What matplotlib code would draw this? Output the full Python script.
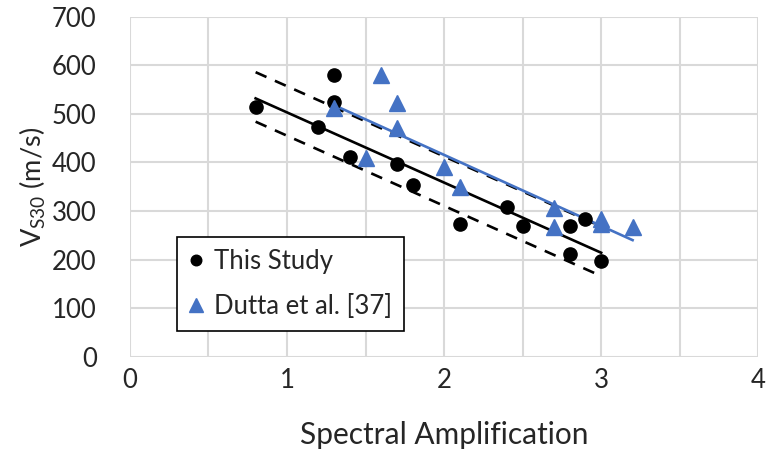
import numpy as np
import matplotlib.pyplot as plt

plt.rcParams['font.family'] = ['Lato', 'DejaVu Sans']

# This Study (black circles)
study_x = [0.8, 1.2, 1.3, 1.3, 1.4, 1.7, 1.8, 2.1, 2.4, 2.5, 2.8, 2.8, 2.9, 3.0]
study_y = [514, 474, 580, 525, 411, 397, 354, 273, 308, 269, 269, 212, 283, 197]

# Dutta et al. [37] (blue triangles)
dutta_x = [1.3, 1.5, 1.6, 1.7, 1.7, 2.0, 2.1, 2.7, 2.7, 3.0, 3.0, 3.2]
dutta_y = [512, 409, 581, 522, 470, 391, 350, 306, 268, 283, 273, 268]

# fitted lines
fit_x = [0.8, 3.0]
fit_y = [532, 214]
upper_y = [586, 268]
lower_y = [484, 166]
dutta_fit_x = [1.3, 3.2]
dutta_fit_y = [518, 240]

blue = '#4472C4'
fs = 18.5

fig = plt.figure(figsize=(7.69, 4.68), dpi=100)
ax = fig.add_axes([0.169, 0.238, 0.817, 0.726])

ax.plot(fit_x, fit_y, color='black', lw=1.9, zorder=3)
ax.plot(fit_x, upper_y, color='black', lw=1.9, dashes=(4.5, 3.5), zorder=3)
ax.plot(fit_x, lower_y, color='black', lw=1.9, dashes=(4.5, 3.5), zorder=3)
ax.plot(dutta_fit_x, dutta_fit_y, color=blue, lw=1.9, zorder=3)

ax.plot(study_x, study_y, 'o', color='black', ms=9.5, ls='none', zorder=4,
        label='This Study')
ax.plot(dutta_x, dutta_y, '^', color=blue, ms=12, ls='none', zorder=4,
        label='Dutta et al. [37]')

ax.set_xlim(0, 4)
ax.set_ylim(0, 700)
ax.set_xticks([0, 1, 2, 3, 4])
ax.set_xticks(np.arange(0, 4.01, 0.5), minor=True)
ax.set_yticks(np.arange(0, 701, 100))
ax.grid(True, which='both', color='#d9d9d9', lw=1.5)
ax.set_axisbelow(True)
for s in ax.spines.values():
    s.set_visible(False)
ax.tick_params(which='both', length=0, labelsize=fs, colors='#262626')
ax.tick_params(axis='y', pad=24)
ax.tick_params(axis='x', pad=8)

ax.set_xlabel('Spectral Amplification', fontsize=21.5, color='#262626', labelpad=20)
ax.set_ylabel('V$_{\\mathregular{S30}}$ (m/s)', fontsize=19.5, color='#262626', labelpad=3)

leg = ax.legend(loc='upper left', bbox_to_anchor=(0.075, 0.352), fontsize=fs,
                frameon=True, fancybox=False, edgecolor='black', framealpha=1,
                markerscale=0.8, handlelength=0.6, handletextpad=0.4,
                borderpad=0.45, labelspacing=0.8, borderaxespad=0)
leg.get_frame().set_linewidth(1.2)
for t in leg.get_texts():
    t.set_color('#262626')

fig.savefig('out.png', dpi=100)
